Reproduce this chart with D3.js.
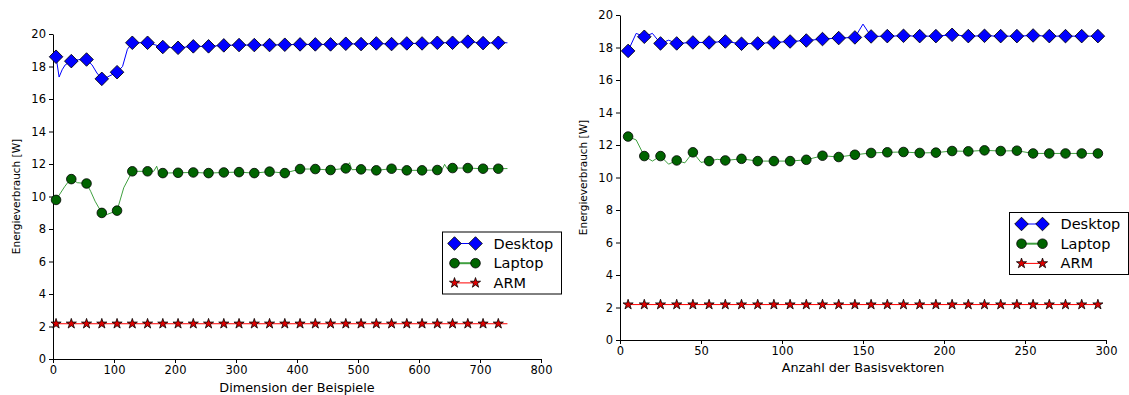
<!DOCTYPE html>
<html>
<head>
<meta charset="utf-8">
<script src="https://cdn.jsdelivr.net/npm/d3@7"></script>
<style>
body { margin: 0; background: #fff; }
text { font-family: "DejaVu Sans", sans-serif; fill: #000; }
</style>
</head>
<body>
<svg width="1129" height="395"></svg>
<script>
// left panel: Dimension der Beispiele
var leftDesktopX = [5,10,15,20,30,42,55,64,72,80,89,105,114,122,130,155,180,205,230,255,280,305,330,355,380,405,430,455,480,505,530,555,580,605,630,655,680,705,730,745];
var leftDesktopY = [18.60,17.35,17.80,18.10,18.33,18.42,18.43,18.10,17.60,17.24,17.35,17.65,18.00,19.06,19.46,19.46,19.20,19.15,19.24,19.24,19.30,19.32,19.32,19.32,19.34,19.36,19.36,19.36,19.40,19.38,19.42,19.38,19.42,19.42,19.46,19.46,19.53,19.44,19.46,19.46];
var leftLaptopX = [5,19,25,30,40,55,62,69,80,89,105,116,130,155,165,170,173,180,205,230,255,280,305,330,355,380,405,430,455,480,486,490,505,530,555,580,605,630,638,642,646,655,680,705,730,745];
var leftLaptopY = [9.79,10.60,10.90,11.07,10.85,10.80,10.30,9.71,8.99,8.90,9.13,10.54,11.55,11.55,11.55,11.86,11.50,11.44,11.46,11.48,11.44,11.48,11.50,11.44,11.53,11.44,11.69,11.69,11.63,11.73,12.08,11.65,11.67,11.61,11.71,11.61,11.61,11.63,11.66,11.98,11.72,11.75,11.75,11.71,11.71,11.72];
var leftArmX = [5,30,55,80,105,130,155,180,205,230,255,280,305,330,355,380,405,430,455,480,505,530,555,580,605,630,655,680,705,730,745];
var leftArmY = [2.17,2.17,2.17,2.17,2.17,2.17,2.17,2.17,2.17,2.17,2.17,2.17,2.17,2.17,2.17,2.17,2.17,2.17,2.17,2.17,2.17,2.17,2.17,2.17,2.17,2.17,2.17,2.17,2.17,2.17,2.17];
var leftXTicks = [0,100,200,300,400,500,600,700,800];

// right panel: Anzahl der Basisvektoren
var rightDesktopX = [5,10,15,20,25,30,35,45,55,65,75,85,95,105,115,125,135,145,150,155,165,175,185,195,205,215,225,235,245,255,265,275,285,295];
var rightDesktopY = [17.79,18.87,18.66,18.87,18.25,18.45,18.25,18.31,18.31,18.37,18.23,18.25,18.31,18.37,18.43,18.52,18.58,18.62,19.44,18.68,18.70,18.72,18.70,18.70,18.78,18.70,18.72,18.70,18.70,18.74,18.70,18.70,18.70,18.70];
var rightLaptopX = [5,10,15,20,25,30,35,40,45,50,55,60,65,75,85,95,105,115,125,135,145,155,165,175,185,195,205,215,225,235,245,255,265,275,285,295];
var rightLaptopY = [12.52,12.31,11.32,11.01,11.32,10.82,11.05,10.90,11.55,10.93,11.01,11.12,11.05,11.15,11.01,11.01,11.01,11.09,11.34,11.26,11.40,11.51,11.55,11.57,11.51,11.53,11.63,11.61,11.67,11.63,11.65,11.48,11.48,11.48,11.48,11.48];
var rightArmX = [5,15,25,35,45,55,65,75,85,95,105,115,125,135,145,155,165,175,185,195,205,215,225,235,245,255,265,275,285,295];
var rightArmY = [2.18,2.18,2.18,2.18,2.18,2.18,2.18,2.18,2.18,2.18,2.18,2.18,2.18,2.18,2.18,2.18,2.18,2.18,2.18,2.18,2.18,2.18,2.18,2.18,2.18,2.18,2.18,2.18,2.18,2.18];
var rightXTicks = [0,50,100,150,200,250,300];

var yTicks = [0,2,4,6,8,10,12,14,16,18,20];
var seriesNames = ["Desktop", "Laptop", "ARM"];

var svg = d3.select("svg");

var styles = {
  Desktop: { line: "#0000ff", fill: "#0000ff", opacity: 1 },
  Laptop: { line: "#008000", fill: "#006400", opacity: 0.75 },
  ARM: { line: "#ff0000", fill: "#e00000", opacity: 1 }
};

function marker(g, name) {
  if (name == "Desktop") {
    g.append("path")
    .attr("d", d3.symbol().type(d3.symbolSquare).size(92)())
    .attr("transform", "rotate(45)");
  } else if (name == "Laptop") {
    g.append("circle").attr("r", 4.8);
  } else {
    g.append("path").attr("d", d3.symbol().type(d3.symbolStar).size(32)());
  }
  g.selectAll("path, circle")
  .attr("fill", styles[name].fill)
  .attr("stroke", "#000")
  .attr("stroke-width", 0.8);
}

function panel(p) {
  var x = d3.scaleLinear().domain(p.xDomain).range([p.left, p.right]);
  var y = d3.scaleLinear().domain([0, 20]).range([p.bottom, p.top]);
  var g = svg.append("g");

  g.append("g")
  .attr("transform", "translate(0," + p.bottom + ")")
  .call(d3.axisBottom(x).tickValues(p.xTicks).tickSize(4).tickSizeOuter(0).tickPadding(3))
  .call(function (a) {
    a.selectAll("text").style("font-size", "11.5px").style("font-family", "DejaVu Sans");
  });

  g.append("g")
  .attr("transform", "translate(" + p.left + ",0)")
  .call(d3.axisLeft(y).tickValues(yTicks).tickSize(4).tickSizeOuter(0).tickPadding(3))
  .call(function (a) {
    a.selectAll("text").style("font-size", "11.5px").style("font-family", "DejaVu Sans");
  });

  g.selectAll(".domain, .tick line").attr("stroke", "#000");

  p.series.forEach(function (s) {
    var pts = s.xs.map(function (d, i) { return [d, s.ys[i]]; });
    g.append("path")
    .datum(pts)
    .attr("fill", "none")
    .attr("stroke", styles[s.name].line)
    .attr("stroke-opacity", styles[s.name].opacity)
    .attr("stroke-width", 1)
    .attr("d", d3.line().x(function (d) { return x(d[0]); }).y(function (d) { return y(d[1]); }));

    var marks = pts.filter(function (d) { return (d[0] - 5) % p.markEvery == 0 && d[0] <= p.lastMark; });
    g.append("g").selectAll("g")
    .data(marks)
    .enter().append("g")
    .attr("transform", function (d) { return "translate(" + x(d[0]) + "," + y(d[1]) + ")"; })
    .each(function () { marker(d3.select(this), s.name); });
  });

  g.append("text")
  .attr("x", (p.left + p.right) / 2)
  .attr("y", p.xLabelY)
  .attr("text-anchor", "middle")
  .style("font-size", "12.8px")
  .text(p.xLabel);

  g.append("text")
  .attr("transform", "translate(" + p.yLabelX + "," + ((p.top + p.bottom) / 2) + ") rotate(-90)")
  .attr("text-anchor", "middle")
  .style("font-size", "10.5px")
  .text("Energieverbrauch [W]");

  // legend
  var lg = g.append("g").attr("transform", "translate(" + p.legend[0] + "," + p.legend[1] + ")");
  lg.append("rect")
  .attr("width", 119).attr("height", 62)
  .attr("fill", "#fff").attr("stroke", "#000").attr("stroke-width", 1);
  seriesNames.forEach(function (name, i) {
    var yy = 11.5 + i * 19.7;
    lg.append("line")
    .attr("x1", 12).attr("x2", 33).attr("y1", yy).attr("y2", yy)
    .attr("stroke", styles[name].line)
    .attr("stroke-opacity", styles[name].opacity)
    .attr("stroke-width", name == "Laptop" ? 2 : 1);
    marker(lg.append("g").attr("transform", "translate(12," + yy + ")"), name);
    marker(lg.append("g").attr("transform", "translate(33," + yy + ")"), name);
    lg.append("text")
    .attr("x", 51).attr("y", yy + 5)
    .style("font-size", "14.5px")
    .text(name);
  });
}

panel({
  left: 53, right: 541, top: 34, bottom: 359,
  xDomain: [0, 800], xTicks: leftXTicks, markEvery: 25, lastMark: 730,
  xLabel: "Dimension der Beispiele", xLabelY: 392, yLabelX: 20,
  legend: [442.5, 232],
  series: [
    { name: "Desktop", xs: leftDesktopX, ys: leftDesktopY },
    { name: "Laptop", xs: leftLaptopX, ys: leftLaptopY },
    { name: "ARM", xs: leftArmX, ys: leftArmY }
  ]
});

panel({
  left: 620, right: 1106, top: 15, bottom: 340,
  xDomain: [0, 300], xTicks: rightXTicks, markEvery: 10, lastMark: 295,
  xLabel: "Anzahl der Basisvektoren", xLabelY: 372, yLabelX: 587,
  legend: [1009.5, 212.5],
  series: [
    { name: "Desktop", xs: rightDesktopX, ys: rightDesktopY },
    { name: "Laptop", xs: rightLaptopX, ys: rightLaptopY },
    { name: "ARM", xs: rightArmX, ys: rightArmY }
  ]
});
</script>
</body>
</html>
